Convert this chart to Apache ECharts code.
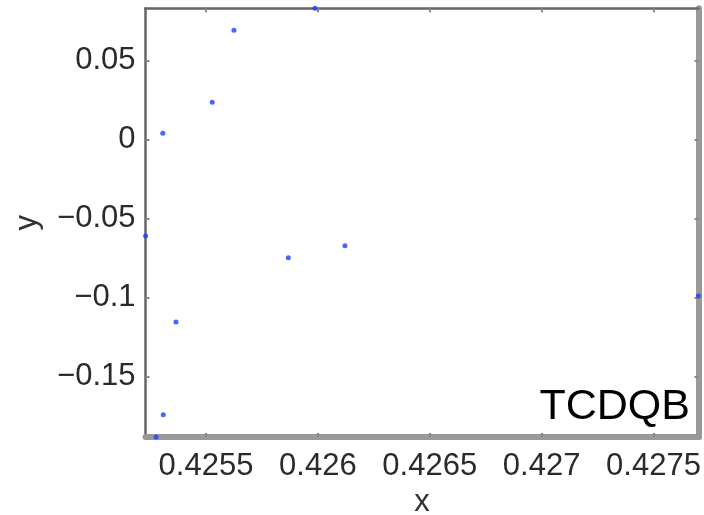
<!DOCTYPE html>
<html>
<head>
<meta charset="utf-8">
<script src="https://cdn.jsdelivr.net/npm/echarts@6/dist/echarts.min.js"></script>
<style>html,body{margin:0;padding:0;background:#fff}#c{width:704px;height:515px}</style>
</head>
<body>
<div id="c"></div>
<script>
var xValues = [0.425987, 0.425625, 0.425528, 0.425307, 0.425230, 0.425868, 0.426121, 0.425366, 0.425309, 0.425277, 0.427701];
var yValues = [0.0829, 0.0690, 0.0234, 0.0038, -0.0612, -0.0749, -0.0673, -0.1156, -0.1743, -0.1884, -0.0992];
var xTicks = [0.4255, 0.426, 0.4265, 0.427, 0.4275];
var yTicks = [-0.15, -0.1, -0.05, 0, 0.05];
var xMin = 0.4252297, xMax = 0.4277011;
var yMin = -0.1884, yMax = 0.0829;
var tag = 'TCDQB';

var points = xValues.map(function (x, i) { return [x, yValues[i]]; });
function fmt(v) {
  var s = String(+v.toFixed(6));
  return s.charAt(0) === '-' ? '\u2212' + s.slice(1) : s;
}
var font = '"Liberation Sans", Arial, sans-serif';
var chart = echarts.init(document.getElementById('c'), null, {renderer: 'canvas'});
chart.setOption({
  animation: false,
  backgroundColor: '#fff',
  grid: {left: 145.5, top: 8.3, right: 5.5, bottom: 78, containLabel: false, outerBoundsMode: 'none'},
  xAxis: [{
    type: 'value', position: 'bottom', min: xMin, max: xMax,
    name: 'x', nameLocation: 'middle', nameGap: 48,
    nameTextStyle: {fontFamily: font, fontSize: 31, color: '#333'},
    axisLine: {onZero: false, lineStyle: {color: '#999', width: 6}},
    axisTick: {inside: true, length: 4, customValues: xTicks, lineStyle: {color: '#888', width: 2}},
    axisLabel: {customValues: xTicks, formatter: fmt, margin: 14, fontFamily: font, fontSize: 31, color: '#2a2a2a', hideOverlap: false},
    splitLine: {show: false}
  }, {
    type: 'value', position: 'top', min: xMin, max: xMax,
    axisLine: {onZero: false, lineStyle: {color: '#666', width: 2.5}},
    axisTick: {inside: true, length: 4, customValues: xTicks, lineStyle: {color: '#888', width: 2}},
    axisLabel: {show: false},
    splitLine: {show: false}
  }],
  yAxis: [{
    type: 'value', position: 'left', min: yMin, max: yMax,
    name: 'y', nameLocation: 'middle', nameGap: 103, nameRotate: 90,
    nameTextStyle: {fontFamily: font, fontSize: 31, color: '#333'},
    axisLine: {onZero: false, lineStyle: {color: '#666', width: 2.5}},
    axisTick: {inside: true, length: 4, customValues: yTicks, lineStyle: {color: '#888', width: 2}},
    axisLabel: {customValues: yTicks, formatter: fmt, margin: 10, fontFamily: font, fontSize: 31, color: '#2a2a2a', hideOverlap: false, padding: [5, 0, 0, 0]},
    splitLine: {show: false}
  }, {
    type: 'value', position: 'right', min: yMin, max: yMax,
    axisLine: {onZero: false, lineStyle: {color: '#999', width: 6}},
    axisTick: {inside: true, length: 4, customValues: yTicks, lineStyle: {color: '#888', width: 2}},
    axisLabel: {show: false},
    splitLine: {show: false}
  }],
  graphic: [{
    type: 'text', right: 14, bottom: 86,
    style: {text: tag, fontFamily: font, fontSize: 43, fill: '#000'}
  }],
  series: [{
    type: 'scatter', xAxisIndex: 0, yAxisIndex: 0, clip: false,
    symbol: 'circle', symbolSize: 5,
    itemStyle: {color: '#1e3cff'},
    data: points
  }]
});
</script>
</body>
</html>
